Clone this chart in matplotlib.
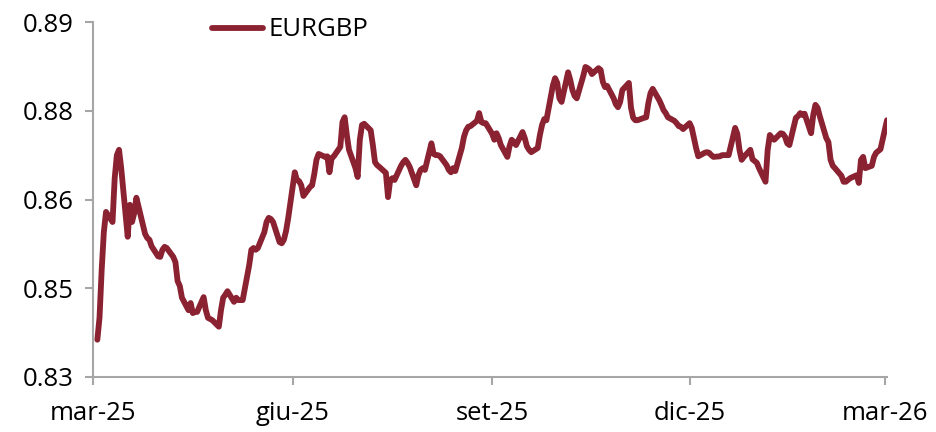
import matplotlib
matplotlib.use("Agg")
import matplotlib.pyplot as plt
import pandas as pd
import numpy as np

plt.rcParams['font.family'] = ['Open Sans', 'DejaVu Sans']

series_name = "EURGBP"
start_date = "2025-03-03"
end_date = "2026-03-02"

eurgbp = [
    0.8363, 0.8400, 0.8481, 0.8545, 0.8579,
    0.8562, 0.8636, 0.8675, 0.8684, 0.8653,
    0.8537, 0.8591, 0.8562, 0.8577, 0.8603,
    0.8557, 0.8542, 0.8535, 0.8532, 0.8521,
    0.8504, 0.8503, 0.8515, 0.8520, 0.8518,
    0.8503, 0.8494, 0.8462, 0.8454, 0.8434,
    0.8413, 0.8425, 0.8408, 0.8410, 0.8410,
    0.8435, 0.8413, 0.8400, 0.8398, 0.8396,
    0.8385, 0.8413, 0.8434, 0.8439, 0.8445,
    0.8427, 0.8434, 0.8430, 0.8430, 0.8430,
    0.8489, 0.8515, 0.8518, 0.8515, 0.8518,
    0.8545, 0.8562, 0.8569, 0.8567, 0.8562,
    0.8528, 0.8526, 0.8532, 0.8547, 0.8569,
    0.8646, 0.8633, 0.8631, 0.8624, 0.8606,
    0.8621, 0.8624, 0.8643, 0.8667, 0.8677,
    0.8672, 0.8673, 0.8646, 0.8670, 0.8673,
    0.8689, 0.8731, 0.8739, 0.8709, 0.8684,
    0.8653, 0.8638, 0.8701, 0.8726, 0.8728,
    0.8717, 0.8692, 0.8663, 0.8658, 0.8655,
    0.8645, 0.8604, 0.8633, 0.8636, 0.8633,
    0.8657, 0.8663, 0.8667, 0.8662, 0.8655,
    0.8624, 0.8641, 0.8650, 0.8653, 0.8650,
    0.8695, 0.8677, 0.8675, 0.8675, 0.8673,
    0.8658, 0.8650, 0.8646, 0.8653, 0.8648,
    0.8687, 0.8706, 0.8717, 0.8723, 0.8724,
    0.8733, 0.8746, 0.8731, 0.8729, 0.8729,
    0.8711, 0.8701, 0.8712, 0.8704, 0.8692,
    0.8672, 0.8690, 0.8701, 0.8697, 0.8692,
    0.8714, 0.8704, 0.8690, 0.8684, 0.8680,
    0.8687, 0.8709, 0.8726, 0.8736, 0.8734,
    0.8793, 0.8805, 0.8797, 0.8771, 0.8765,
    0.8815, 0.8802, 0.8785, 0.8775, 0.8771,
    0.8809, 0.8824, 0.8822, 0.8819, 0.8812,
    0.8822, 0.8819, 0.8799, 0.8790, 0.8792,
    0.8771, 0.8761, 0.8756, 0.8765, 0.8785,
    0.8797, 0.8755, 0.8738, 0.8734, 0.8734,
    0.8738, 0.8739, 0.8763, 0.8780, 0.8787,
    0.8768, 0.8760, 0.8751, 0.8746, 0.8739,
    0.8733, 0.8729, 0.8724, 0.8723, 0.8719,
    0.8729, 0.8721, 0.8704, 0.8687, 0.8673,
    0.8679, 0.8680, 0.8679, 0.8675, 0.8672,
    0.8673, 0.8675, 0.8675, 0.8675, 0.8675,
    0.8721, 0.8711, 0.8684, 0.8667, 0.8672,
    0.8684, 0.8668, 0.8665, 0.8662, 0.8653,
    0.8630, 0.8684, 0.8709, 0.8704, 0.8701,
    0.8712, 0.8711, 0.8706, 0.8695, 0.8692,
    0.8738, 0.8741, 0.8746, 0.8743, 0.8745,
    0.8712, 0.8743, 0.8760, 0.8755, 0.8741,
    0.8704, 0.8697, 0.8667, 0.8657, 0.8653,
    0.8640, 0.8630, 0.8630, 0.8633, 0.8636,
    0.8641, 0.8628, 0.8667, 0.8672, 0.8653,
    0.8657, 0.8672, 0.8679, 0.8682, 0.8685,
    0.8734,
]

x_tick_dates = ["2025-03-01", "2025-06-01", "2025-09-01", "2025-12-01", "2026-03-01"]
x_tick_labels = ["mar-25", "giu-25", "set-25", "dic-25", "mar-26"]
y_ticks = [0.83, 0.845, 0.86, 0.875, 0.89]
y_tick_labels = ["0.83", "0.85", "0.86", "0.88", "0.89"]

dates = pd.bdate_range(start_date, end_date)
values = np.array(eurgbp)

fig = plt.figure(figsize=(9.37, 4.32), dpi=100)
ax = fig.add_axes([93/937, 1 - 377/432, (887 - 93)/937, (377 - 22)/432])

line_color = "#8B2232"
axis_color = "#A6A6A6"

ax.plot(dates, values, color=line_color, linewidth=4.2, solid_joinstyle='round',
        solid_capstyle='round', label=series_name)

ax.set_xlim(pd.Timestamp("2025-03-01"), pd.Timestamp("2026-03-02"))
ax.set_ylim(0.83, 0.89)
ax.set_xticks(pd.to_datetime(x_tick_dates))
ax.set_xticklabels(x_tick_labels)
ax.set_yticks(y_ticks)
ax.set_yticklabels(y_tick_labels)

for s in ["top", "right"]:
    ax.spines[s].set_visible(False)
for s in ["left", "bottom"]:
    ax.spines[s].set_color(axis_color)
    ax.spines[s].set_linewidth(1.5)

ax.tick_params(axis='both', direction='out', length=6, width=1.5, color=axis_color,
               labelsize=18.5, labelcolor="black")
ax.tick_params(axis='x', pad=11)
ax.tick_params(axis='y', pad=8)

fig.legend(loc='center left', bbox_to_anchor=(212/937, 1 - 30/432), frameon=False,
           borderpad=0, borderaxespad=0, handlelength=2.0, handletextpad=0.2,
           fontsize=18.5)

fig.savefig("out.png", dpi=100)
